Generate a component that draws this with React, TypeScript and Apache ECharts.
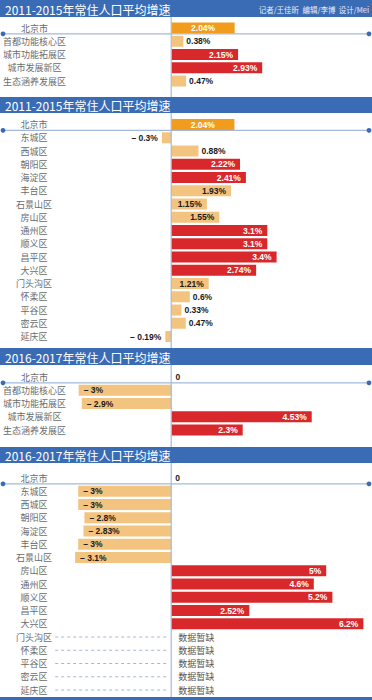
import React, { useEffect, useRef } from "react";
import * as echarts from "echarts";

// ---------- data ----------
const titleA = "2011-2015年常住人口平均增速";
const titleB = "2016-2017年常住人口平均增速";
const credits = "记者/王佳昕  编辑/李博  设计/Mei";
const missingText = "数据暂缺";

const zoneCats = ["北京市", "首都功能核心区", "城市功能拓展区", "城市发展新区", "生态涵养发展区"];
const districtCats = [
  "北京市", "东城区", "西城区", "朝阳区", "海淀区", "丰台区", "石景山区", "房山区",
  "通州区", "顺义区", "昌平区", "大兴区", "门头沟区", "怀柔区", "平谷区", "密云区", "延庆区",
];

const zone1115 = [2.04, 0.38, 2.15, 2.93, 0.47];
const district1115 = [2.04, -0.3, 0.88, 2.22, 2.41, 1.93, 1.15, 1.55, 3.1, 3.1, 3.4, 2.74, 1.21, 0.6, 0.33, 0.47, -0.19];
const zone1617 = [0, -3, -2.9, 4.53, 2.3];
const district1617: (number | null)[] = [0, -3, -3, -2.8, -2.83, -3, -3.1, 5, 4.6, 5.2, 2.52, 6.2, null, null, null, null, null];
const missing1617 = ["门头沟区", "怀柔区", "平谷区", "密云区", "延庆区"];

// ---------- layout / style ----------
const W = 372;
const H = 700;
const X_MIN = -3.2;
const X_MAX = 6.4;
const GRID_LEFT = 72;
const GRID_WIDTH = 297.6;
const ZERO_X = GRID_LEFT + ((0 - X_MIN) / (X_MAX - X_MIN)) * GRID_WIDTH;
const PITCH = 13.25;
const BLUE = "#3a6cb5";
const AXIS_BLUE = "#a3b9dc";
const RED = "#d9282b";
const TAN = "#f3c47f";
const ORANGE = "#f19c1c";
const CJK = "'Noto Sans CJK SC', 'Noto Sans', sans-serif";
const NUM = "'Liberation Sans Narrow', 'Liberation Sans', Arial, sans-serif";

const panels = [
  { title: titleA, cats: zoneCats, vals: zone1115 as (number | null)[], headTop: 0, headH: 17, gridTop: 21.4, end: 97 },
  { title: titleA, cats: districtCats, vals: district1115 as (number | null)[], headTop: 97, headH: 16, gridTop: 117.9, end: 348 },
  { title: titleB, cats: zoneCats, vals: zone1617 as (number | null)[], headTop: 348, headH: 17, gridTop: 370.4, end: 447 },
  { title: titleB, cats: districtCats, vals: district1617, headTop: 447, headH: 16, gridTop: 471.4, end: 697 },
];

function fmt(v: number) {
  if (v === 0) return "0";
  if (v < 0) return "\u2013 " + Math.abs(v) + "%";
  return v + "%";
}

function itemFor(v: number | null, i: number, city: number) {
  if (v === null) return { value: null };
  let color = TAN;
  let position = "insideRight";
  let labelColor = "#1a1a1a";
  let distance = 5;
  if (i === 0) {
    color = ORANGE;
    if (v === 0) {
      position = "right";
      distance = 4;
    } else {
      position = "inside";
      labelColor = "#ffffff";
    }
  } else if (v > city) {
    color = RED;
    labelColor = "#ffffff";
  } else if (v >= 1) {
    position = "insideRight";
  } else if (v >= 0) {
    position = "right";
    distance = 3;
  } else if (v > -1) {
    position = "left";
    distance = 4;
  } else {
    position = "insideLeft";
    distance = 5;
  }
  return {
    value: v,
    itemStyle: { color },
    label: { show: true, position, color: labelColor, distance },
  };
}

export default function App() {
  const ref = useRef<HTMLDivElement>(null);

  useEffect(() => {
    if (!ref.current) return;
    const chart = echarts.init(ref.current, undefined, { renderer: "svg" });

    const grids: any[] = [];
    const xAxes: any[] = [];
    const yAxes: any[] = [];
    const series: any[] = [];
    const graphic: any[] = [];

    panels.forEach((p, k) => {
      const gridH = p.cats.length * PITCH;
      grids.push({ left: GRID_LEFT, width: GRID_WIDTH, top: p.gridTop, height: gridH, containLabel: false });
      xAxes.push({
        type: "value", gridIndex: k, min: X_MIN, max: X_MAX, show: false,
      });
      yAxes.push({
        type: "category", gridIndex: k, data: p.cats, inverse: true,
        axisLine: { show: false, onZero: false },
        axisTick: { show: false },
        splitLine: { show: false },
        axisLabel: {
          show: true, align: "center", margin: GRID_LEFT - 34,
          color: "#6b6b6b", fontSize: 9, fontFamily: CJK,
        },
      });
      const city = p.vals[0] as number;
      series.push({
        type: "bar", xAxisIndex: k, yAxisIndex: k, barWidth: 11,
        data: p.vals.map((v, i) => itemFor(v, i, city)),
        label: {
          show: true, fontSize: 8.5, fontWeight: "bold", fontFamily: NUM,
          formatter: (prm: any) => fmt(prm.value),
        },
        silent: true,
      });

      // header band
      graphic.push({ type: "rect", shape: { x: 0, y: p.headTop, width: W, height: p.headH }, style: { fill: BLUE }, z: 10 });
      graphic.push({
        type: "text", x: 5, y: p.headTop + p.headH / 2 + 0.5, z: 11,
        style: { text: p.title, fill: "#ffffff", fontSize: 12, fontFamily: CJK, verticalAlign: "middle", align: "left" },
      });
      // zero line
      graphic.push({
        type: "line", z: 5,
        shape: { x1: ZERO_X, y1: p.headTop + p.headH, x2: ZERO_X, y2: p.end },
        style: { stroke: AXIS_BLUE, lineWidth: 1.2 },
      });
      // separator under 北京市
      const sepY = p.gridTop + PITCH - 0.8;
      graphic.push({ type: "line", z: 6, shape: { x1: 3, y1: sepY, x2: 369, y2: sepY }, style: { stroke: AXIS_BLUE, lineWidth: 1.2 } });
      graphic.push({ type: "circle", z: 7, shape: { cx: 3, cy: sepY, r: 2.4 }, style: { fill: BLUE } });
      graphic.push({ type: "circle", z: 7, shape: { cx: 369, cy: sepY, r: 2.4 }, style: { fill: BLUE } });
    });

    graphic.push({
      type: "text", x: 369, y: 9.5, z: 11,
      style: { text: credits, fill: "#e8eefa", fontSize: 7.5, fontFamily: CJK, verticalAlign: "middle", align: "right" },
    });
    graphic.push({ type: "rect", shape: { x: 0, y: 697, width: W, height: 3 }, style: { fill: BLUE }, z: 10 });

    series.push({
      type: "custom", xAxisIndex: 3, yAxisIndex: 3, clip: false, silent: true,
      encode: { x: 0, y: 1 },
      data: missing1617.map((c) => [0, c]),
      renderItem: (params: any, api: any) => {
        const pt = api.coord([0, api.value(1)]);
        return {
          type: "group",
          children: [
            {
              type: "line",
              shape: { x1: pt[0] - 116, y1: pt[1], x2: pt[0] - 5, y2: pt[1] },
              style: { stroke: "#a6b7d3", lineWidth: 1, lineDash: [3, 3] },
            },
            {
              type: "text", x: pt[0] + 7, y: pt[1],
              style: { text: missingText, fill: "#555555", fontSize: 9, fontFamily: CJK, verticalAlign: "middle", align: "left" },
            },
          ],
        };
      },
    });

    chart.setOption({
      animation: false,
      backgroundColor: "#ffffff",
      grid: grids,
      xAxis: xAxes,
      yAxis: yAxes,
      series,
      graphic,
    });

    return () => chart.dispose();
  }, []);

  return (
    <div
      ref={ref}
      style={{ position: "fixed", left: 0, top: 0, width: W, height: H, background: "#fff" }}
    />
  );
}
